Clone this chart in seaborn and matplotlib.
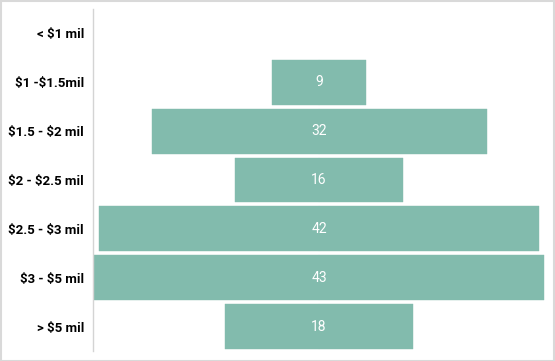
import matplotlib
matplotlib.use("Agg")
import matplotlib.pyplot as plt
import seaborn as sns
import pandas as pd
from matplotlib.patches import Rectangle

categories = ["< $1 mil", "$1 -$1.5mil", "$1.5 - $2 mil", "$2 - $2.5 mil",
              "$2.5 - $3 mil", "$3 - $5 mil", "> $5 mil"]
values = [0, 9, 32, 16, 42, 43, 18]

df = pd.DataFrame({"cat": categories, "val": values})
df["half"] = df["val"] / 2
df["neg"] = -df["val"] / 2

sns.set_theme(style="white")
plt.rcParams["font.family"] = ["Roboto", "DejaVu Sans"]

color = "#82bbad"
fig = plt.figure(figsize=(5.55, 3.61), dpi=100)
ax = fig.add_axes([93 / 555, 10 / 361, 460 / 555, 342 / 361])

for col in ["half", "neg"]:
    sns.barplot(data=df, x=col, y="cat", order=categories, orient="h",
                color=color, saturation=1, width=0.92, ax=ax,
                edgecolor=color, linewidth=0.3)
for p in ax.patches:
    if abs(p.get_width()) < 1e-9:
        p.set_visible(False)

for i, v in enumerate(values):
    if v > 0:
        ax.text(0, i, str(v), ha="center", va="center", color="white",
                fontsize=10)

ax.set_xlim(-21.6, 22.35)
ax.set_ylim(6.5, -0.5)
ax.set_xlabel("")
ax.set_ylabel("")
ax.set_xticks([])
ax.set_yticks(range(len(categories)))
ax.set_yticklabels(categories)
ax.tick_params(axis="y", length=0, pad=6.5, labelsize=9.5)
for lbl in ax.get_yticklabels():
    lbl.set_parse_math(False)
    lbl.set_fontweight("bold")
    lbl.set_color("black")
for s in ["top", "right", "bottom"]:
    ax.spines[s].set_visible(False)
ax.spines["left"].set_color("#d4d4d4")
ax.spines["left"].set_linewidth(1)

fig.patches.append(Rectangle((0.001, 0.001), 0.997, 0.997, transform=fig.transFigure,
                             fill=False, edgecolor="#d9d9d9", linewidth=1.5))

fig.savefig("out.png", dpi=100)
